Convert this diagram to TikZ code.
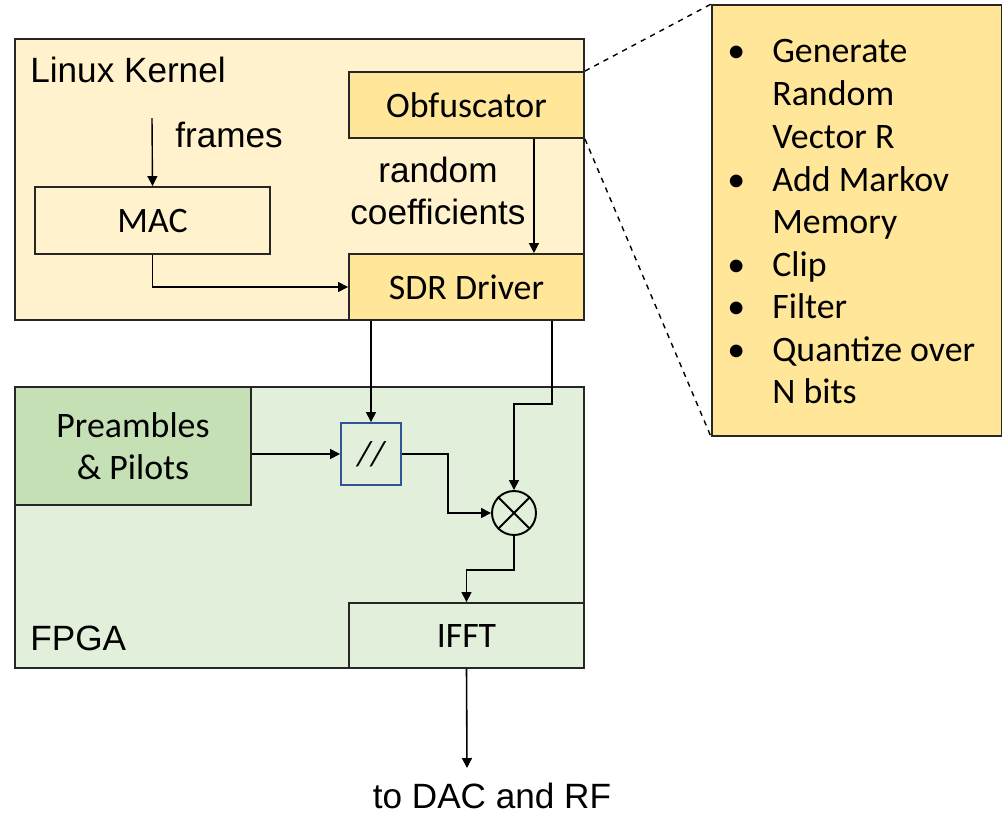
\documentclass[tikz,border=0pt]{standalone}
\usepackage{fontspec}
\setmainfont{Carlito}
\newfontfamily\arialfont{Liberation Sans}
\usepackage{xcolor}
\usetikzlibrary{arrows.meta}
\usetikzlibrary{positioning}

\definecolor{kernelfill}{HTML}{FFF2CC}
\definecolor{obffill}{HTML}{FFE699}
\definecolor{fpgafill}{HTML}{E2EFDA}
\definecolor{prefill}{HTML}{C5E0B4}
\definecolor{slashblue}{HTML}{2F5597}

\begin{document}
\begin{tikzpicture}[
  x=0.02cm, y=-0.02cm,
  % blocks
  block/.style={draw=black!85, line width=1.1pt, minimum width=4.7cm, minimum height=1.32cm, inner sep=0pt, font=\fontsize{20.4}{24}\selectfont},
  region/.style={draw=black!85, line width=1.1pt, minimum width=11.38cm, minimum height=5.62cm, inner sep=0pt},
  label_txt/.style={font=\arialfont\fontsize{20}{24}\selectfont, inner sep=0pt},
  flow/.style={line width=0.9pt, -{Triangle[length=2mm,width=2mm]}},
  bullet_txt/.style={anchor=base west, inner sep=0pt, font=\fontsize{20.4}{24}\selectfont}
]
\useasboundingbox (0,0) rectangle (1002,816);

% regions
\node[region, fill=kernelfill] (kernel) at (299.5,179.5) {};
\node[region, fill=fpgafill] (fpga) at (299.5,527.5) {};

% blocks in the kernel
\node[block, fill=obffill] (obf) at (466.5,105) {Obfuscator};
\node[block, fill=obffill] (sdr) at (466.5,287) {SDR Driver};
\node[block, fill=kernelfill, minimum height=1.34cm] (mac) at (152.5,220.5) {MAC};

% blocks in the FPGA
\node[block, fill=prefill, minimum width=4.72cm, minimum height=2.36cm, align=center, font=\fontsize{20.4}{23.8}\selectfont] (pre) at (133,446) {Preambles\\\& Pilots};
\node[draw=slashblue, line width=1.1pt, fill=fpgafill, minimum width=1.2cm, minimum height=1.24cm, inner sep=0pt, font=\fontsize{20}{24}\selectfont\itshape] (slash) at (371,454) {//};
\node[circle, draw=black, line width=1.1pt, fill=fpgafill, minimum size=0.88cm, inner sep=0pt] (mul) at (514,513) {};
\draw[line width=1.1pt] (mul.north west) -- (mul.south east) (mul.north east) -- (mul.south west);
\node[block, fill=fpgafill, minimum height=1.3cm] (ifft) at (466.5,635.5) {IFFT};

% labels
\node[label_txt, anchor=west] (lk) at (30,70) {Linux Kernel};
\node[label_txt, anchor=west] (frames) at (175,135) {frames};
\node[label_txt, align=center, font=\arialfont\fontsize{20}{23.8}\selectfont] (coef) at (438,191) {random\\coefficients};
\node[label_txt, anchor=west] (fpgalbl) at (30,638) {FPGA};
\node[label_txt, anchor=base] (out) at (492,808) {to DAC and RF};

% obfuscator details
\node[draw=black!85, line width=1.1pt, fill=obffill, minimum width=5.8cm, minimum height=8.62cm, inner sep=0pt] (steps) at (857,220.5) {};
\foreach \y/\b/\txt in {62/1/Generate, 105/0/Random, 148/0/Vector R, 191/1/Add Markov, 233/0/Memory, 276/1/Clip, 318/1/Filter, 361/1/Quantize over, 403/0/N bits}{
  \ifnum\b=1 \node[bullet_txt] at (727,\y) {•};\fi
  \node[bullet_txt] at (772,\y) {\txt};
}

% zoom lines
\draw[dashed, line width=0.8pt] (obf.north east) -- (steps.north west);
\draw[dashed, line width=0.8pt] (obf.south east) -- (steps.south west);

% connectors
\coordinate (fin) at (152,118);
\coordinate (outtip) at (467,768);
\draw[flow, line width=0.8pt] (fin) -- (mac.north);
\draw[flow, line width=0.8pt] (mac.south) |- (sdr.west);
\draw[flow, line width=0.8pt] ([xshift=-1.02cm]obf.south east) -- ([xshift=-1.02cm]sdr.north east);
\draw[flow] (slash.north |- sdr.south) -- (slash.north);
\draw[flow] ([xshift=-0.66cm]sdr.south east) |- ([yshift=1.72cm]mul.north) -- (mul.north);
\draw[flow] (pre.east |- slash.west) -- (slash.west);
\draw[flow] (slash.east) -- ++(0.92cm,0) |- (mul.west);
\draw[flow] (mul.south) -- ++(0,-0.68cm) -| (ifft.north);
\draw[flow] (ifft.south) -- (outtip);

\end{tikzpicture}
\end{document}
